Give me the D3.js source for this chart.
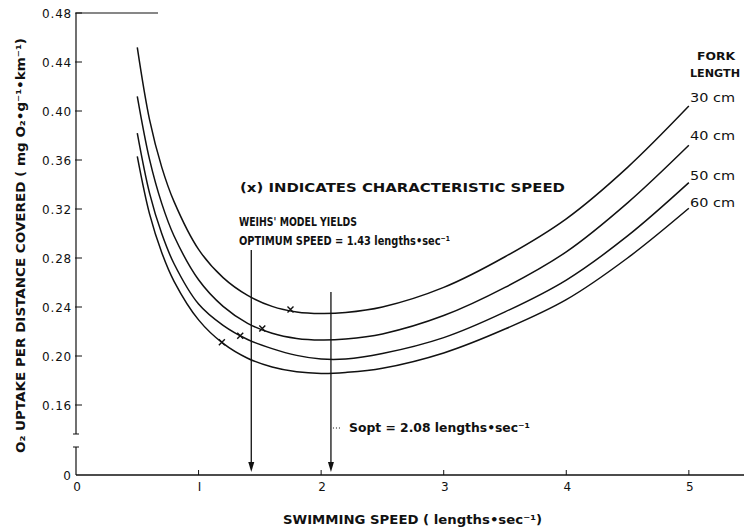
<!DOCTYPE html>
<html><head><meta charset="utf-8">
<script src="https://cdn.jsdelivr.net/npm/d3@7"></script>
<style>
html,body{margin:0;padding:0;background:#fff;}
svg{display:block;}
text{font-family:"DejaVu Sans",sans-serif;fill:#111;}
</style></head><body>
<svg id="chart" width="747" height="531"></svg>
<script>
// ---- data ----
const speeds = [0.5,0.6,0.7,0.8,1.0,1.2,1.4,1.6,1.8,2.0,2.2,2.5,3.0,3.5,4.0,4.5,5.0];
const fork30 = [0.452,0.393,0.354,0.326,0.287,0.264,0.2495,0.2405,0.236,0.2347,0.2355,0.240,0.256,0.281,0.312,0.354,0.404];
const fork40 = [0.412,0.3605,0.3244,0.298,0.2622,0.2405,0.2267,0.2185,0.2143,0.2130,0.2138,0.218,0.233,0.256,0.285,0.325,0.372];
const fork50 = [0.382,0.333,0.2997,0.2753,0.2424,0.225,0.2135,0.206,0.2005,0.1975,0.1975,0.202,0.215,0.236,0.262,0.298,0.3415];
const fork60 = [0.363,0.316,0.2843,0.261,0.2295,0.2103,0.1982,0.191,0.1871,0.1858,0.1866,0.190,0.2025,0.222,0.246,0.280,0.3206];
const seriesNames = ["30 cm","40 cm","50 cm","60 cm"];
const charSpeed = [1.75,1.52,1.34,1.19];
const charValue = [0.2380,0.2225,0.2165,0.2112];
const yTicks = [0.16,0.20,0.24,0.28,0.32,0.36,0.40,0.44,0.48];
const xTicks = [0,1,2,3,4,5];
const weihsSpeed = 1.43;
const soptSpeed = 2.08;

// ---- layout ----
const svg = d3.select("#chart");
const x = d3.scaleLinear().domain([0,5.45]).range([76,744]);
const y = d3.scaleLinear().domain([0.16,0.48]).range([405,13]);
const axisX0 = x(0);
const baseY = 475;          // position of zero (broken axis)
const breakTop = 434, breakBot = 447;
const ink = "#111";

const g = svg.append("g");

// y axis (broken)
g.append("line").attr("x1",axisX0).attr("x2",axisX0).attr("y1",y(0.48)).attr("y2",breakTop)
  .attr("stroke",ink).attr("stroke-width",1.2);
g.append("line").attr("x1",axisX0-3).attr("x2",axisX0+3).attr("y1",breakTop).attr("y2",breakTop)
  .attr("stroke",ink).attr("stroke-width",1);
g.append("line").attr("x1",axisX0).attr("x2",axisX0).attr("y1",breakBot).attr("y2",baseY)
  .attr("stroke",ink).attr("stroke-width",1.2);
g.append("line").attr("x1",axisX0-3).attr("x2",axisX0+3).attr("y1",breakBot).attr("y2",breakBot)
  .attr("stroke",ink).attr("stroke-width",1);
// top line at 0.48
g.append("line").attr("x1",axisX0).attr("x2",158).attr("y1",y(0.48)).attr("y2",y(0.48))
  .attr("stroke",ink).attr("stroke-width",1.2);

// y ticks and labels
yTicks.forEach(t=>{
  g.append("line").attr("x1",axisX0-1).attr("x2",axisX0+6).attr("y1",y(t)).attr("y2",y(t))
    .attr("stroke",ink).attr("stroke-width",1);
  g.append("text").attr("x",72).attr("y",y(t)+4.5).attr("text-anchor","end")
    .attr("font-size",12).attr("letter-spacing",0.8).text(d3.format(".2f")(t));
});
g.append("text").attr("x",71).attr("y",baseY+4.5).attr("text-anchor","end").attr("font-size",12).text("0");

// x axis
g.append("line").attr("x1",axisX0).attr("x2",744).attr("y1",baseY).attr("y2",baseY)
  .attr("stroke",ink).attr("stroke-width",1.3);
xTicks.forEach(t=>{
  if(t>0) g.append("line").attr("x1",x(t)).attr("x2",x(t)).attr("y1",baseY).attr("y2",baseY-5)
    .attr("stroke",ink).attr("stroke-width",1);
  g.append("text").attr("x",x(t)+1).attr("y",baseY+16).attr("text-anchor","middle")
    .attr("font-size",12).text(t===1?"I":String(t));
});

// axis titles
g.append("text").attr("x",283).attr("y",524).attr("font-size",12).attr("font-weight","bold")
  .attr("textLength",259).attr("lengthAdjust","spacingAndGlyphs")
  .text("SWIMMING SPEED ( lengths•sec⁻¹)");
g.append("text").attr("transform","translate(25,453) rotate(-90)").attr("font-size",12).attr("font-weight","bold")
  .attr("textLength",415).attr("lengthAdjust","spacingAndGlyphs")
  .text("O₂ UPTAKE PER DISTANCE COVERED ( mg O₂•g⁻¹•km⁻¹)");

// curves
const series = [fork30,fork40,fork50,fork60];
const line = d3.line().x((d,i)=>x(speeds[i])).y(d=>y(d)).curve(d3.curveCatmullRom.alpha(0.5));
series.forEach(s=>{
  g.append("path").attr("d",line(s)).attr("fill","none").attr("stroke",ink).attr("stroke-width",1.5);
});

// characteristic speed markers (x)
charSpeed.forEach((s,i)=>{
  const cx = x(s), cy = y(charValue[i]), r = 3;
  g.append("path").attr("d",`M${cx-r},${cy-r}L${cx+r},${cy+r}M${cx-r},${cy+r}L${cx+r},${cy-r}`)
    .attr("stroke",ink).attr("stroke-width",1.4).attr("fill","none");
});

// series labels
const labelY = [102,140,180,207];
g.append("text").attr("x",697).attr("y",60).attr("font-size",11).attr("font-weight","bold")
  .attr("textLength",38).attr("lengthAdjust","spacingAndGlyphs").text("FORK");
g.append("text").attr("x",690).attr("y",77).attr("font-size",11).attr("font-weight","bold")
  .attr("textLength",50).attr("lengthAdjust","spacingAndGlyphs").text("LENGTH");
seriesNames.forEach((n,i)=>{
  g.append("text").attr("x",690).attr("y",labelY[i]).attr("font-size",13)
    .attr("textLength",45).attr("lengthAdjust","spacingAndGlyphs").text(n);
});

// annotations
function note(tx, ty, len, str, fs){
  g.append("text").attr("x",tx).attr("y",ty).attr("font-size",fs).attr("font-weight","bold")
    .attr("textLength",len).attr("lengthAdjust","spacingAndGlyphs").text(str);
}
note(240,192,325,"(x) INDICATES CHARACTERISTIC SPEED",12);
note(239,226,118,"WEIHS' MODEL YIELDS",12.5);
note(239,245,211,"OPTIMUM SPEED = 1.43 lengths•sec⁻¹",12.5);
note(349,432,181,"Sopt = 2.08 lengths•sec⁻¹",12.5);

// arrows
function arrow(s, y0){
  const ax = x(s);
  g.append("line").attr("x1",ax).attr("x2",ax).attr("y1",y0).attr("y2",baseY-8)
    .attr("stroke",ink).attr("stroke-width",1.3);
  g.append("path").attr("d",`M${ax-3},${baseY-13}L${ax+3},${baseY-13}L${ax},${baseY-3}Z`).attr("fill",ink);
}
arrow(weihsSpeed, 250);
arrow(soptSpeed, 292);
g.append("line").attr("x1",x(soptSpeed)+2).attr("x2",x(soptSpeed)+9).attr("y1",428).attr("y2",428)
  .attr("stroke",ink).attr("stroke-width",1).attr("stroke-dasharray","1,2");
</script>
</body></html>
